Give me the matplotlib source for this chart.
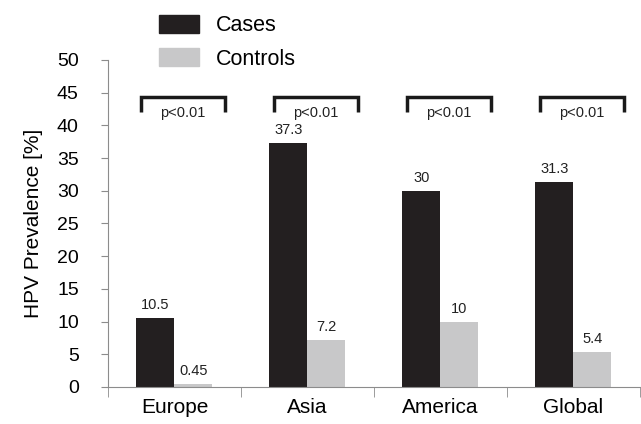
import numpy as np
import matplotlib.pyplot as plt
from matplotlib.patches import Patch

plt.rcParams['font.family'] = ['Liberation Sans', 'DejaVu Sans']

regions = ['Europe', 'Asia', 'America', 'Global']
cases = [10.5, 37.3, 30, 31.3]
controls = [0.45, 7.2, 10, 5.4]
case_labels = ['10.5', '37.3', '30', '31.3']
control_labels = ['0.45', '7.2', '10', '5.4']
p_text = ['p<0.01', 'p<0.01', 'p<0.01', 'p<0.01']

dark = '#231f20'
light = '#c8c8c9'
axis_gray = '#8c8c8c'

fig = plt.figure(figsize=(6.41, 4.24), dpi=100)
ax = fig.add_axes([0.1685, 0.0873, 0.8295, 0.7712])

x = np.arange(len(regions))
w = 0.286
ax.bar(x - w / 2, cases, w, color=dark)
ax.bar(x + w / 2, controls, w, color=light)

for i in range(len(regions)):
    ax.text(x[i] - w / 2, cases[i] + 0.9, case_labels[i], ha='center', va='bottom', fontsize=10.5, color='#222222')
    ax.text(x[i] + w / 2, controls[i] + 0.9, control_labels[i], ha='center', va='bottom', fontsize=10.5, color='#222222')
    # bracket
    left, right = x[i] - 0.25, x[i] + 0.38
    ax.plot([left, left, right, right], [42.1, 44.4, 44.4, 42.1], color='#1a1a1a', lw=2.5,
            solid_joinstyle='miter', solid_capstyle='butt')
    ax.text(x[i] + 0.065, 41.9, p_text[i], ha='center', va='center', fontsize=10.5, color='#222222')

ax.set_xlim(-0.5, 3.5)
ax.set_ylim(0, 50)
ax.set_yticks(np.arange(0, 51, 5))
ax.set_xticks(x)
ax.set_xticklabels(regions, fontsize=15)
ax.set_xticks(np.arange(-0.5, 3.6, 1), minor=True)
ax.tick_params(axis='x', which='major', length=0, pad=8)
ax.tick_params(axis='x', which='minor', length=7, color=axis_gray, direction='out')
ax.tick_params(axis='y', labelsize=14, length=5, color=axis_gray, pad=16)
for s in ['top', 'right']:
    ax.spines[s].set_visible(False)
for s in ['left', 'bottom']:
    ax.spines[s].set_color(axis_gray)
ax.set_ylabel('HPV Prevalence [%]', fontsize=15, labelpad=10)

handles = [Patch(color=dark, label='Cases'), Patch(color=light, label='Controls')]
fig.legend(handles=handles, loc='upper left', bbox_to_anchor=(0.218, 1.01), frameon=False,
           fontsize=15.5, handlelength=1.85, handleheight=0.9, labelspacing=0.55, handletextpad=0.8)

fig.savefig('out.png', dpi=100)
